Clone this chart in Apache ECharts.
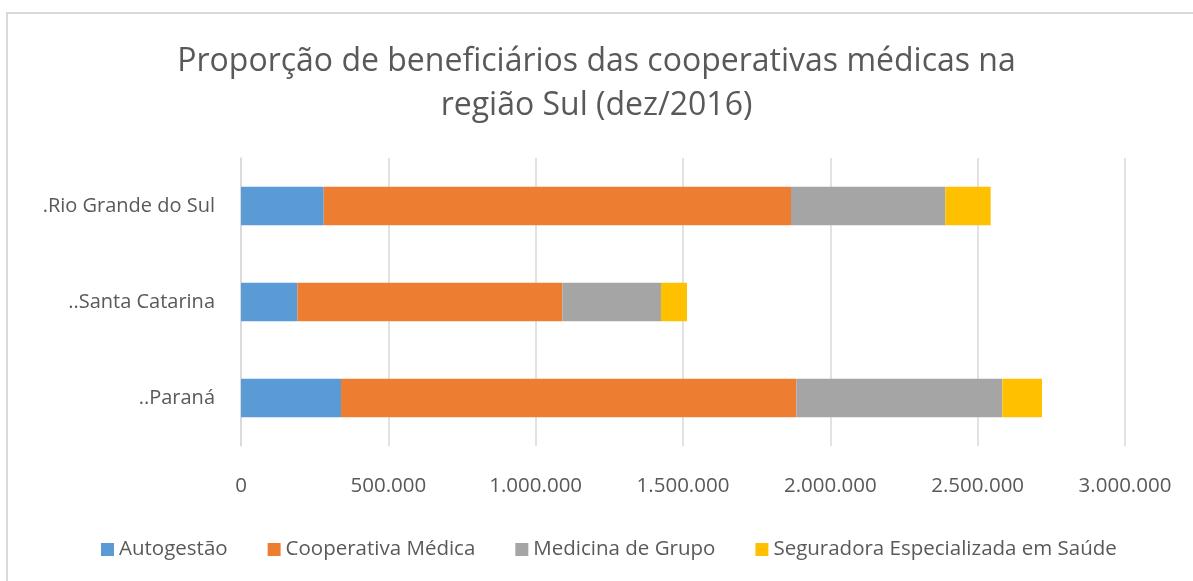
<!DOCTYPE html>
<html lang="pt">

<head>
    <meta charset="UTF-8">
    <title>Beneficiários - região Sul</title>
    <style>
        html, body {
            margin: 0;
            padding: 0;
            background: #fff;
        }
        .box {
            width: 1193px;
            height: 581px;
        }
    </style>
</head>

<body>
    <div class="box"></div>

    <script src="https://cdn.jsdelivr.net/npm/echarts@6/dist/echarts.min.js"></script>
    <script>
        // categorias de baixo para cima (eixo y de categorias)
        let estados = ["..Paraná", "..Santa Catarina", ".Rio Grande do Sul"];
        let autogestao = [339400, 191200, 280600];
        let cooperativa = [1545100, 899300, 1585900];
        let medicina = [699200, 334800, 523700];
        let seguradora = [134600, 88200, 153900];
        let nomes = ["Autogestão", "Cooperativa Médica", "Medicina de Grupo", "Seguradora Especializada em Saúde"];
        let cores = ["#5b9bd5", "#ed7d31", "#a5a5a5", "#ffc000"];

        let fonte = "'Open Sans', 'Liberation Sans', sans-serif";
        let cinza = "#595959";

        let myChart = echarts.init(document.querySelector(".box"));

        function serie(nome, dados, cor) {
            return {
                name: nome,
                type: "bar",
                stack: "total",
                data: dados,
                barCategoryGap: "60%",
                itemStyle: { color: cor },
                emphasis: { disabled: true }
            }
        }

        option = {
            animation: false,
            color: cores,
            graphic: [{
                type: "rect",
                shape: { x: 7, y: 13, width: 1200, height: 600 },
                style: { fill: "none", stroke: "#d9d9d9", lineWidth: 2 },
                silent: true
            }],
            title: {
                text: "Proporção de beneficiários das cooperativas médicas na\nregião Sul (dez/2016)",
                left: "center",
                top: 35,
                textStyle: {
                    fontFamily: fonte,
                    fontWeight: "normal",
                    fontSize: 32,
                    lineHeight: 44,
                    color: cinza
                }
            },
            legend: {
                bottom: 16,
                left: 96,
                padding: 5,
                itemWidth: 13,
                itemHeight: 13,
                itemGap: 40,
                itemTextGap: 6,
                icon: "rect",
                textStyle: {
                    fontFamily: fonte,
                    fontSize: 20.5,
                    color: cinza
                },
                data: nomes
            },
            grid: {
                left: 241,
                right: 68,
                top: 158,
                bottom: 135,
                containLabel: false
            },
            xAxis: {
                type: "value",
                min: 0,
                max: 3000000,
                interval: 500000,
                axisLine: { show: false },
                axisTick: { show: false },
                axisLabel: {
                    margin: 30,
                    fontFamily: fonte,
                    fontSize: 20.5,
                    color: cinza,
                    formatter: function (v) {
                        return v.toString().replace(/\B(?=(\d{3})+(?!\d))/g, ".");
                    }
                },
                splitLine: {
                    lineStyle: { color: "#d9d9d9", width: 1.5 }
                }
            },
            yAxis: {
                type: "category",
                data: estados,
                axisLine: { lineStyle: { color: "#d9d9d9", width: 1.5 } },
                axisTick: { show: false },
                axisLabel: {
                    margin: 26,
                    fontFamily: fonte,
                    fontSize: 20,
                    color: cinza
                }
            },
            series: [
                serie(nomes[0], autogestao, cores[0]),
                serie(nomes[1], cooperativa, cores[1]),
                serie(nomes[2], medicina, cores[2]),
                serie(nomes[3], seguradora, cores[3])
            ]
        }
        myChart.setOption(option);
    </script>
</body>

</html>
